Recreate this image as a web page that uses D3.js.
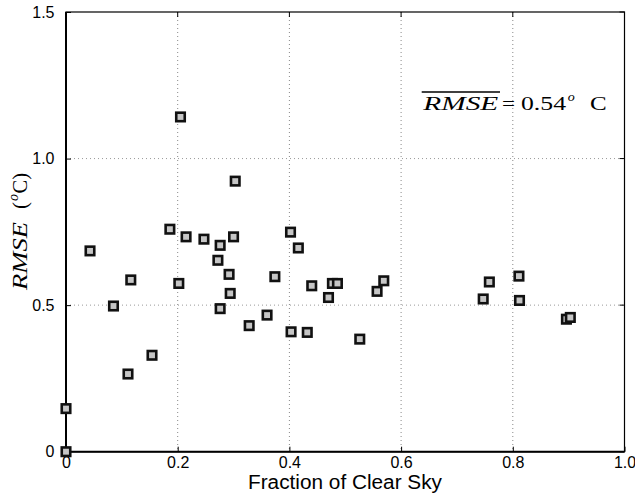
<!DOCTYPE html>
<html>
<head>
<meta charset="utf-8">
<script src="https://cdn.jsdelivr.net/npm/d3@7"></script>
<style>
  html, body { margin: 0; padding: 0; background: #fff; }
  svg { display: block; }
</style>
</head>
<body>
<svg id="chart" width="635" height="494"></svg>
<script>
// ---- data ----
const clearSkyFraction = [0, 0, 0.043, 0.085, 0.116, 0.111, 0.154, 0.186, 0.205, 0.202,
  0.215, 0.247, 0.276, 0.272, 0.292, 0.294, 0.276, 0.300, 0.303, 0.328,
  0.360, 0.374, 0.402, 0.416, 0.403, 0.432, 0.440, 0.470, 0.477, 0.486,
  0.526, 0.557, 0.569, 0.747, 0.758, 0.811, 0.812, 0.896, 0.903];
const rmseValues = [0, 0.147, 0.685, 0.497, 0.586, 0.265, 0.329, 0.759, 1.142, 0.574,
  0.733, 0.725, 0.704, 0.653, 0.605, 0.540, 0.488, 0.733, 0.923, 0.430,
  0.466, 0.597, 0.749, 0.695, 0.409, 0.407, 0.566, 0.526, 0.574, 0.574,
  0.384, 0.547, 0.583, 0.521, 0.579, 0.599, 0.516, 0.452, 0.458];
const xTicks = [0, 0.2, 0.4, 0.6, 0.8, 1.0];
const xTickLabels = ["0", "0.2", "0.4", "0.6", "0.8", "1.0"];
const yTicks = [0, 0.5, 1.0, 1.5];
const yTickLabels = ["0", "0.5", "1.0", "1.5"];
const meanRmseLabel = "0.54";

(function () {
const points = clearSkyFraction.map((x, i) => ({ x, y: rmseValues[i] }));

const svg = d3.select("#chart");
const pL = 66, pR = 624.5, pT = 12, pB = 451.7;
const x = d3.scaleLinear().domain([0, 1]).range([pL, pR]);
const y = d3.scaleLinear().domain([0, 1.5]).range([pB, pT]);

// gridlines
const grid = svg.append("g");
grid.selectAll("line.gx").data(xTicks.slice(1, -1)).join("line")
  .attr("x1", d => x(d)).attr("x2", d => x(d))
  .attr("y1", pT).attr("y2", pB)
  .attr("stroke", "#888").attr("stroke-width", 1).attr("stroke-dasharray", "1,3");
grid.selectAll("line.gy").data(yTicks.slice(1, -1)).join("line")
  .attr("y1", d => y(d)).attr("y2", d => y(d))
  .attr("x1", pL).attr("x2", pR)
  .attr("stroke", "#999").attr("stroke-width", 1).attr("stroke-dasharray", "1,3");

// frame
svg.append("rect").attr("x", pL).attr("y", pT)
  .attr("width", pR - pL).attr("height", pB - pT)
  .attr("fill", "none").attr("stroke", "#000").attr("stroke-width", 1.2);
svg.append("line").attr("x1", pL).attr("x2", pL).attr("y1", pT).attr("y2", pB)
  .attr("stroke", "#000").attr("stroke-width", 2);
svg.append("line").attr("x1", pL).attr("x2", pR).attr("y1", pB).attr("y2", pB)
  .attr("stroke", "#000").attr("stroke-width", 2);

// axes with inward ticks
const font = "'Liberation Sans', Arial, Helvetica, sans-serif";
const xAxis = d3.axisBottom(x).tickValues(xTicks).tickSize(-5).tickPadding(4.5)
  .tickFormat((d, i) => xTickLabels[i]);
const gx = svg.append("g").attr("transform", `translate(0,${pB})`).call(xAxis);
gx.select(".domain").remove();
gx.selectAll("text").attr("font-family", font).attr("font-size", 16).attr("fill", "#000");

const yAxis = d3.axisLeft(y).tickValues(yTicks).tickSize(-5).tickPadding(11.5)
  .tickFormat((d, i) => yTickLabels[i]);
const gy = svg.append("g").attr("transform", `translate(${pL},0)`).call(yAxis);
gy.select(".domain").remove();
gy.selectAll("text").attr("font-family", font).attr("font-size", 16).attr("fill", "#000");

// top and right ticks
svg.append("g").selectAll("line").data(xTicks).join("line")
  .attr("x1", d => x(d)).attr("x2", d => x(d)).attr("y1", pT).attr("y2", pT + 5)
  .attr("stroke", "#000");
svg.append("g").selectAll("line").data(yTicks).join("line")
  .attr("y1", d => y(d)).attr("y2", d => y(d)).attr("x1", pR).attr("x2", pR - 5)
  .attr("stroke", "#000");

// markers
const s = 8.5;
svg.append("g").selectAll("rect").data(points).join("rect")
  .attr("x", d => x(d.x) - s / 2).attr("y", d => y(d.y) - s / 2)
  .attr("width", s).attr("height", s)
  .attr("fill", "#c6c6c6").attr("stroke", "#111").attr("stroke-width", 2.6);

// x title
svg.append("text").attr("x", 248).attr("y", 488.5)
  .attr("font-family", font).attr("font-size", 19.5).attr("fill", "#000")
  .attr("textLength", 194).attr("lengthAdjust", "spacingAndGlyphs")
  .text("Fraction of Clear Sky");

// y title (rotated, reads bottom to top; local x = -page y)
const serif = "'Liberation Serif', 'DejaVu Serif', serif";
const yt = svg.append("g").attr("transform", "translate(26.5,0) rotate(-90)")
  .attr("font-family", serif).attr("fill", "#000");
yt.append("text").attr("x", -290).attr("y", 0).attr("font-size", 21).attr("font-style", "italic")
  .attr("textLength", 68).attr("lengthAdjust", "spacingAndGlyphs").text("RMSE");
yt.append("text").attr("x", -209).attr("y", 0).attr("font-size", 21)
  .attr("textLength", 7).attr("lengthAdjust", "spacingAndGlyphs").text("(");
yt.append("text").attr("x", -201).attr("y", -9).attr("font-size", 14).attr("font-style", "italic")
  .attr("textLength", 7).attr("lengthAdjust", "spacingAndGlyphs").text("o");
yt.append("text").attr("x", -193.5).attr("y", 0).attr("font-size", 21)
  .attr("textLength", 20.5).attr("lengthAdjust", "spacingAndGlyphs").text("C)");

// annotation: mean RMSE
const ann = svg.append("g").attr("font-family", serif).attr("fill", "#000");
ann.append("text").attr("x", 423.3).attr("y", 109.5).attr("font-size", 19.5).attr("font-style", "italic")
  .attr("textLength", 75).attr("lengthAdjust", "spacingAndGlyphs").text("RMSE");
ann.append("line").attr("x1", 421.7).attr("x2", 500).attr("y1", 92).attr("y2", 92)
  .attr("stroke", "#000").attr("stroke-width", 1.4);
ann.append("text").attr("x", 502).attr("y", 109.5).attr("font-size", 19.5)
  .attr("textLength", 13).attr("lengthAdjust", "spacingAndGlyphs").text("=");
ann.append("text").attr("x", 521).attr("y", 109.5).attr("font-size", 19.5)
  .attr("textLength", 45).attr("lengthAdjust", "spacingAndGlyphs").text(meanRmseLabel);
ann.append("text").attr("x", 567.7).attr("y", 100.5).attr("font-size", 13).attr("font-style", "italic")
  .attr("textLength", 7).attr("lengthAdjust", "spacingAndGlyphs").text("o");
ann.append("text").attr("x", 590).attr("y", 109.5).attr("font-size", 19.5)
  .attr("textLength", 16.7).attr("lengthAdjust", "spacingAndGlyphs").text("C");
})();
</script>
</body>
</html>
